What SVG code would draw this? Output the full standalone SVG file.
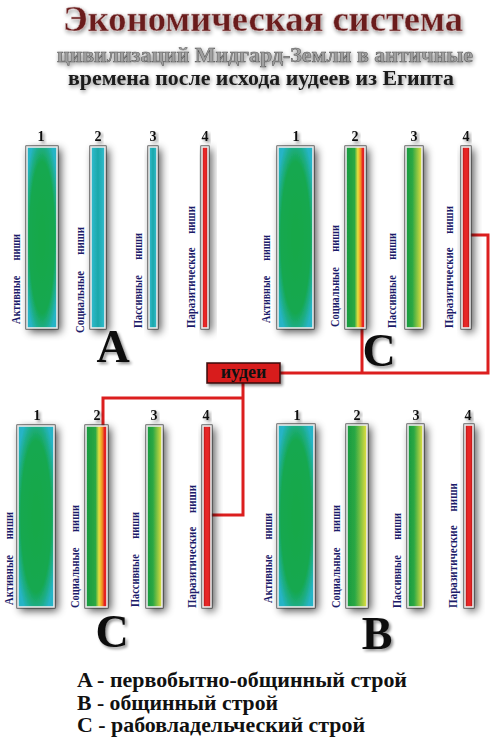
<svg xmlns="http://www.w3.org/2000/svg" width="501" height="737" viewBox="0 0 501 737">
<defs>
<radialGradient id="gAct" cx="0.5" cy="0.5" r="0.6">
<stop offset="0" stop-color="#12a848"/>
<stop offset="0.7" stop-color="#16a850"/>
<stop offset="1" stop-color="#26b4c6"/>
</radialGradient>
<linearGradient id="gTeal" x1="0" y1="0" x2="1" y2="0">
<stop offset="0" stop-color="#34bcd0"/>
<stop offset="0.5" stop-color="#1ca8aa"/>
<stop offset="1" stop-color="#34bcd0"/>
</linearGradient>
<linearGradient id="gRed" x1="0" y1="0" x2="1" y2="0">
<stop offset="0" stop-color="#a81010"/>
<stop offset="0.35" stop-color="#e82828"/>
<stop offset="0.65" stop-color="#e82828"/>
<stop offset="1" stop-color="#a81010"/>
</linearGradient>
<linearGradient id="gGYR" x1="0" y1="0" x2="1" y2="0">
<stop offset="0" stop-color="#169a40"/>
<stop offset="0.45" stop-color="#2ca844"/>
<stop offset="0.62" stop-color="#e6e040"/>
<stop offset="0.77" stop-color="#f09020"/>
<stop offset="0.88" stop-color="#e42020"/>
<stop offset="1" stop-color="#e42020"/>
</linearGradient>
<linearGradient id="gGY" x1="0" y1="0" x2="1" y2="0">
<stop offset="0" stop-color="#169a40"/>
<stop offset="0.4" stop-color="#2ca844"/>
<stop offset="1" stop-color="#e8e040"/>
</linearGradient>
<filter id="sh" x="-100%" y="-10%" width="350%" height="125%">
<feGaussianBlur in="SourceAlpha" stdDeviation="4"/>
<feOffset dx="3" dy="3"/>
<feComponentTransfer><feFuncA type="linear" slope="0.7"/></feComponentTransfer>
<feMerge><feMergeNode/><feMergeNode in="SourceGraphic"/></feMerge>
</filter>
<filter id="tsh" x="-30%" y="-30%" width="160%" height="160%">
<feGaussianBlur in="SourceAlpha" stdDeviation="1.6"/>
<feOffset dx="2" dy="2"/>
<feComponentTransfer><feFuncA type="linear" slope="0.45"/></feComponentTransfer>
<feMerge><feMergeNode/><feMergeNode in="SourceGraphic"/></feMerge>
</filter>
<filter id="glow" x="-10%" y="-40%" width="120%" height="180%">
<feGaussianBlur in="SourceAlpha" stdDeviation="2"/>
<feOffset dx="1" dy="2"/>
<feComponentTransfer><feFuncA type="linear" slope="0.45"/></feComponentTransfer>
<feMerge><feMergeNode/><feMergeNode in="SourceGraphic"/></feMerge>
</filter>
</defs>
<style>
.bar{stroke:#ececec;stroke-width:1.6;filter:url(#sh)}
.edge{fill:none;stroke:#333;stroke-width:0.7}
.num{font-family:"Liberation Serif",serif;font-weight:bold;font-size:14px;fill:#111;text-anchor:middle;filter:url(#tsh)}
.big{font-family:"Liberation Serif",serif;font-weight:bold;font-size:46px;fill:#111;text-anchor:middle;filter:url(#tsh)}
.vt{font-family:"Liberation Serif",serif;font-weight:bold;font-size:11.5px;fill:#1c1c6a}
.leg{font-family:"Liberation Serif",serif;font-weight:bold;font-size:21px;fill:#111}
.con{fill:none;stroke:#dc1e1e;stroke-width:3}
.ttl{font-family:"Liberation Serif",serif;font-weight:bold;text-anchor:middle}
</style>
<rect width="501" height="737" fill="#ffffff"/>

<g id="title">
<text class="ttl" x="263" y="31" textLength="400" lengthAdjust="spacingAndGlyphs" font-size="35" fill="#6a1e1e" stroke="#c8a8a8" stroke-width="0.5" filter="url(#glow)">Экономическая система</text>
<text class="ttl" x="265" y="62" textLength="416" lengthAdjust="spacingAndGlyphs" font-size="21" fill="#a0a0a0" stroke="#555" stroke-width="0.5" filter="url(#glow)">цивилизаций Мидгард-Земли в античные</text>
<text class="ttl" x="261" y="85" textLength="386" lengthAdjust="spacingAndGlyphs" font-size="20" fill="#1a1a1a" filter="url(#glow)">времена после исхода иудеев из Египта</text>
</g>

<g id="connectors">
<polyline class="con" points="470,235 488,235 488,373 280,373"/>
<polyline class="con" points="362,328 362,373"/>
<polyline class="con" points="243,383 243,515 211,515"/>
<polyline class="con" points="243,398 103,398 103,426"/>
</g>

<g id="group-A">
<rect class="bar" x="27" y="147" width="30" height="181" fill="url(#gAct)"/><rect class="edge" x="25.8" y="145.8" width="32.4" height="183.4"/>
<rect class="bar" x="91" y="147" width="14" height="181" fill="url(#gTeal)"/><rect class="edge" x="89.8" y="145.8" width="16.4" height="183.4"/>
<rect class="bar" x="149" y="147" width="8" height="181" fill="url(#gTeal)"/><rect class="edge" x="147.8" y="145.8" width="10.4" height="183.4"/>
<rect class="bar" x="202" y="147" width="6" height="181" fill="url(#gRed)"/><rect class="edge" x="200.8" y="145.8" width="8.4" height="183.4"/>
<text class="num" x="41" y="141">1</text>
<text class="num" x="98" y="141">2</text>
<text class="num" x="153" y="141">3</text>
<text class="num" x="205" y="141">4</text>
<text class="vt" transform="translate(20,324) rotate(-90)" textLength="90" lengthAdjust="spacingAndGlyphs">Активные&#160;&#160;&#160;&#160;&#160;&#160;ниши</text>
<text class="vt" transform="translate(84,333) rotate(-90)" textLength="106" lengthAdjust="spacingAndGlyphs">Социальные&#160;&#160;&#160;&#160;&#160;&#160;ниши</text>
<text class="vt" transform="translate(142,328) rotate(-90)" textLength="95" lengthAdjust="spacingAndGlyphs">Пассивные&#160;&#160;&#160;&#160;&#160;&#160;ниши</text>
<text class="vt" transform="translate(195,328) rotate(-90)" textLength="122" lengthAdjust="spacingAndGlyphs">Паразитические&#160;&#160;&#160;&#160;&#160;ниши</text>
<text class="big" x="113" y="362">A</text>
</g>

<g id="group-C-top">
<rect class="bar" x="278" y="147" width="35" height="181" fill="url(#gAct)"/><rect class="edge" x="276.8" y="145.8" width="37.4" height="183.4"/>
<rect class="bar" x="346" y="147" width="19" height="181" fill="url(#gGYR)"/><rect class="edge" x="344.8" y="145.8" width="21.4" height="183.4"/>
<rect class="bar" x="406" y="147" width="16" height="181" fill="url(#gGY)"/><rect class="edge" x="404.8" y="145.8" width="18.4" height="183.4"/>
<rect class="bar" x="462" y="147" width="8" height="181" fill="url(#gRed)"/><rect class="edge" x="460.8" y="145.8" width="10.4" height="183.4"/>
<text class="num" x="296" y="141">1</text>
<text class="num" x="355" y="141">2</text>
<text class="num" x="414" y="141">3</text>
<text class="num" x="466" y="141">4</text>
<text class="vt" transform="translate(270,323) rotate(-90)" textLength="88" lengthAdjust="spacingAndGlyphs">Активные&#160;&#160;&#160;&#160;&#160;&#160;ниши</text>
<text class="vt" transform="translate(339,327) rotate(-90)" textLength="102" lengthAdjust="spacingAndGlyphs">Социальные&#160;&#160;&#160;&#160;&#160;&#160;ниши</text>
<text class="vt" transform="translate(396,328) rotate(-90)" textLength="95" lengthAdjust="spacingAndGlyphs">Пассивные&#160;&#160;&#160;&#160;&#160;&#160;ниши</text>
<text class="vt" transform="translate(453,328) rotate(-90)" textLength="122" lengthAdjust="spacingAndGlyphs">Паразитические&#160;&#160;&#160;&#160;&#160;ниши</text>
<text class="big" x="379" y="366">C</text>
</g>

<g id="node-iudei">
<rect x="207" y="363" width="73" height="20" fill="#d81e1e" stroke="#3a0a0a" stroke-width="1.5" filter="url(#tsh)"/>
<text x="243.5" y="378" text-anchor="middle" font-family="Liberation Serif, serif" font-weight="bold" font-size="18" fill="#111">иудеи</text>
</g>

<g id="group-C-bottom">
<rect class="bar" x="18" y="426" width="36" height="181" fill="url(#gAct)"/><rect class="edge" x="16.8" y="424.8" width="38.4" height="183.4"/>
<rect class="bar" x="86" y="426" width="21" height="181" fill="url(#gGYR)"/><rect class="edge" x="84.8" y="424.8" width="23.4" height="183.4"/>
<rect class="bar" x="147" y="426" width="15" height="181" fill="url(#gGY)"/><rect class="edge" x="145.8" y="424.8" width="17.4" height="183.4"/>
<rect class="bar" x="203" y="426" width="8" height="181" fill="url(#gRed)"/><rect class="edge" x="201.8" y="424.8" width="10.4" height="183.4"/>
<text class="num" x="37" y="420">1</text>
<text class="num" x="97" y="420">2</text>
<text class="num" x="154" y="420">3</text>
<text class="num" x="206" y="420">4</text>
<text class="vt" transform="translate(13,605) rotate(-90)" textLength="93" lengthAdjust="spacingAndGlyphs">Активные&#160;&#160;&#160;&#160;&#160;&#160;ниши</text>
<text class="vt" transform="translate(79,608) rotate(-90)" textLength="103" lengthAdjust="spacingAndGlyphs">Социальные&#160;&#160;&#160;&#160;&#160;&#160;ниши</text>
<text class="vt" transform="translate(139,607) rotate(-90)" textLength="95" lengthAdjust="spacingAndGlyphs">Пассивные&#160;&#160;&#160;&#160;&#160;&#160;ниши</text>
<text class="vt" transform="translate(196,608) rotate(-90)" textLength="123" lengthAdjust="spacingAndGlyphs">Паразитические&#160;&#160;&#160;&#160;&#160;ниши</text>
<text class="big" x="112" y="647">C</text>
</g>

<g id="group-B">
<rect class="bar" x="278" y="425" width="36" height="182" fill="url(#gAct)"/><rect class="edge" x="276.8" y="423.8" width="38.4" height="184.4"/>
<rect class="bar" x="347" y="425" width="20" height="182" fill="url(#gGY)"/><rect class="edge" x="345.8" y="423.8" width="22.4" height="184.4"/>
<rect class="bar" x="408" y="425" width="15" height="182" fill="url(#gGY)"/><rect class="edge" x="406.8" y="423.8" width="17.4" height="184.4"/>
<rect class="bar" x="465" y="425" width="8" height="182" fill="url(#gRed)"/><rect class="edge" x="463.8" y="423.8" width="10.4" height="184.4"/>
<text class="num" x="297" y="420">1</text>
<text class="num" x="357" y="420">2</text>
<text class="num" x="416" y="420">3</text>
<text class="num" x="468" y="420">4</text>
<text class="vt" transform="translate(272,603) rotate(-90)" textLength="90" lengthAdjust="spacingAndGlyphs">Активные&#160;&#160;&#160;&#160;&#160;&#160;ниши</text>
<text class="vt" transform="translate(340,608) rotate(-90)" textLength="103" lengthAdjust="spacingAndGlyphs">Социальные&#160;&#160;&#160;&#160;&#160;&#160;ниши</text>
<text class="vt" transform="translate(401,608) rotate(-90)" textLength="95" lengthAdjust="spacingAndGlyphs">Пассивные&#160;&#160;&#160;&#160;&#160;&#160;ниши</text>
<text class="vt" transform="translate(457,608) rotate(-90)" textLength="125" lengthAdjust="spacingAndGlyphs">Паразитические&#160;&#160;&#160;&#160;&#160;ниши</text>
<text class="big" x="377" y="649">B</text>
</g>

<g id="legend">
<text class="leg" x="77" y="687" textLength="330" lengthAdjust="spacingAndGlyphs">A - первобытно-общинный строй</text>
<text class="leg" x="77" y="710" textLength="201" lengthAdjust="spacingAndGlyphs">B - общинный строй</text>
<text class="leg" x="77" y="732" textLength="288" lengthAdjust="spacingAndGlyphs">C - рабовладельческий строй</text>
</g>
</svg>
